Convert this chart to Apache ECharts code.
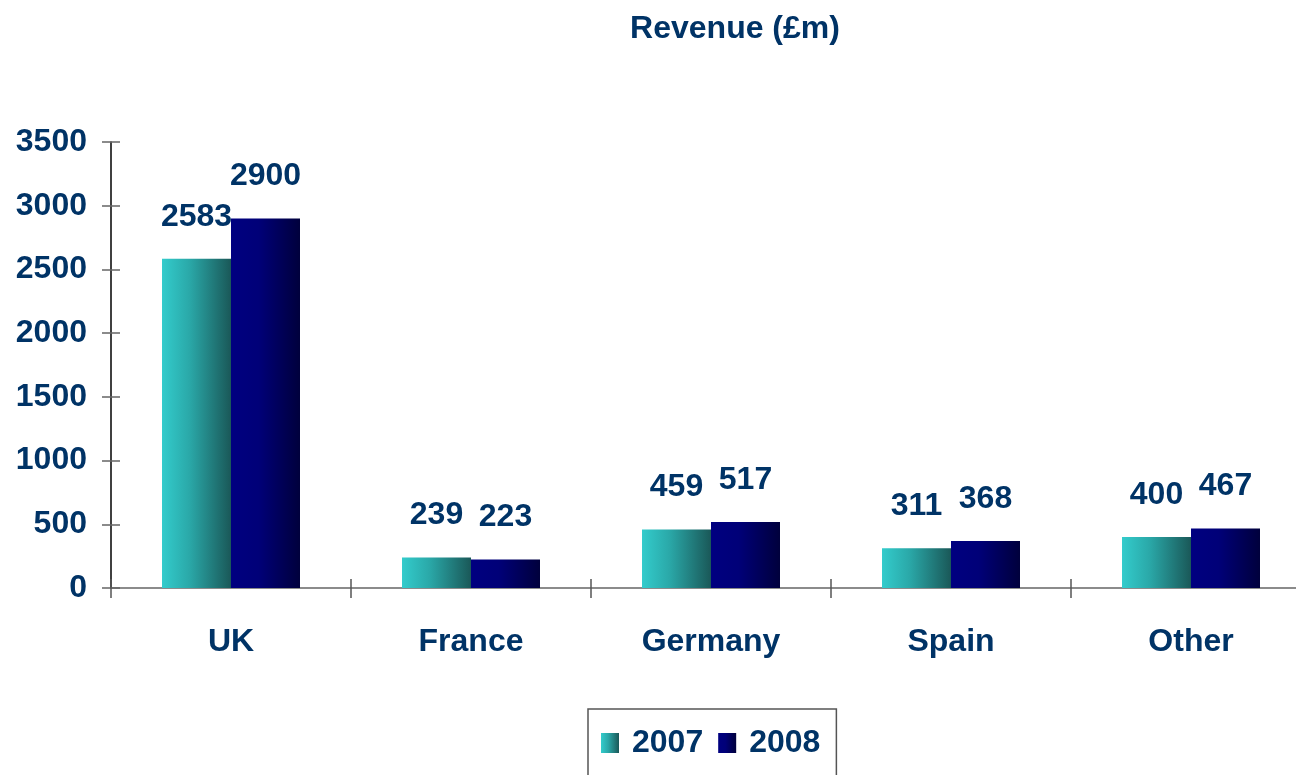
<!DOCTYPE html>
<html>
<head>
<meta charset="utf-8">
<script src="https://cdn.jsdelivr.net/npm/echarts@6/dist/echarts.min.js"></script>
<style>
html,body{margin:0;padding:0;background:#fff;overflow:hidden;width:1296px;height:775px;}
#chart{width:1311px;height:775px;}
</style>
</head>
<body>
<div id="chart"></div>
<script>
const categories = ['UK', 'France', 'Germany', 'Spain', 'Other'];
const seriesNames = ['2007', '2008'];
const values2007 = [2583, 239, 459, 311, 400];
const values2008 = [2900, 223, 517, 368, 467];
const yTicks = { min: 0, max: 3500, interval: 500 };
const titleText = 'Revenue (£m)';

const navy = '#003366';
const font = 'Liberation Sans, Arial, sans-serif';

const grad2007 = new echarts.graphic.LinearGradient(0, 0, 1, 0, [
  { offset: 0, color: '#33cccc' },
  { offset: 0.4, color: '#2aa8a8' },
  { offset: 1, color: '#1a5858' }
]);
const grad2008 = new echarts.graphic.LinearGradient(0, 0, 1, 0, [
  { offset: 0, color: '#000080' },
  { offset: 0.4, color: '#000078' },
  { offset: 1, color: '#00003c' }
]);

const labelStyle = {
  show: true,
  position: 'top',
  distance: 26,
  color: navy,
  fontFamily: font,
  fontWeight: 'bold',
  fontSize: 32
};

const chart = echarts.init(document.getElementById('chart'), null, { renderer: 'canvas' });
chart.setOption({
  animation: false,
  backgroundColor: '#fff',
  title: {
    text: titleText,
    left: 730,
    top: 8,
    textAlign: 'center',
    textStyle: { color: navy, fontFamily: font, fontWeight: 'bold', fontSize: 32 }
  },
  legend: {
    data: seriesNames,
    left: 588,
    top: 709,
    orient: 'horizontal',
    icon: 'rect',
    itemWidth: 18,
    itemHeight: 20,
    itemGap: 15,
    padding: [16, 16, 40, 13],
    borderColor: '#555',
    borderWidth: 1.5,
    textStyle: { color: navy, fontFamily: font, fontWeight: 'bold', fontSize: 32, lineHeight: 36, padding: [0, 0, 0, 8] }
  },
  grid: { left: 111, right: 0, top: 142, bottom: 187 },
  xAxis: [{
    type: 'category',
    data: categories,
    axisLine: { lineStyle: { color: '#666', width: 1.5 } },
    axisTick: { show: true, length: 10, lineStyle: { color: '#555', width: 1.5 } },
    axisLabel: { margin: 38, color: navy, fontFamily: font, fontWeight: 'bold', fontSize: 32 }
  }, {
    type: 'category',
    data: categories,
    position: 'bottom',
    axisLine: { show: false },
    axisTick: { show: true, inside: true, length: 9, lineStyle: { color: '#555', width: 1.5 } },
    axisLabel: { show: false }
  }],
  yAxis: [{
    type: 'value',
    min: yTicks.min, max: yTicks.max, interval: yTicks.interval,
    splitLine: { show: false },
    axisLine: { show: true, lineStyle: { color: '#000', width: 1.5 } },
    axisTick: { show: true, length: 9, lineStyle: { color: '#666', width: 1.5 } },
    axisLabel: { margin: 24, color: navy, fontFamily: font, fontWeight: 'bold', fontSize: 32, formatter: v => String(v) }
  }, {
    type: 'value',
    position: 'left',
    min: yTicks.min, max: yTicks.max, interval: yTicks.interval,
    splitLine: { show: false },
    axisLine: { show: false },
    axisTick: { show: true, inside: true, length: 9, lineStyle: { color: '#666', width: 1.5 } },
    axisLabel: { show: false }
  }],
  series: [{
    name: seriesNames[0],
    type: 'bar',
    data: values2007,
    barGap: '0%',
    barCategoryGap: '42.5%',
    itemStyle: { color: grad2007 },
    label: labelStyle
  }, {
    name: seriesNames[1],
    type: 'bar',
    data: values2008,
    barGap: '0%',
    barCategoryGap: '42.5%',
    itemStyle: { color: grad2008 },
    label: labelStyle
  }]
});
</script>
</body>
</html>
